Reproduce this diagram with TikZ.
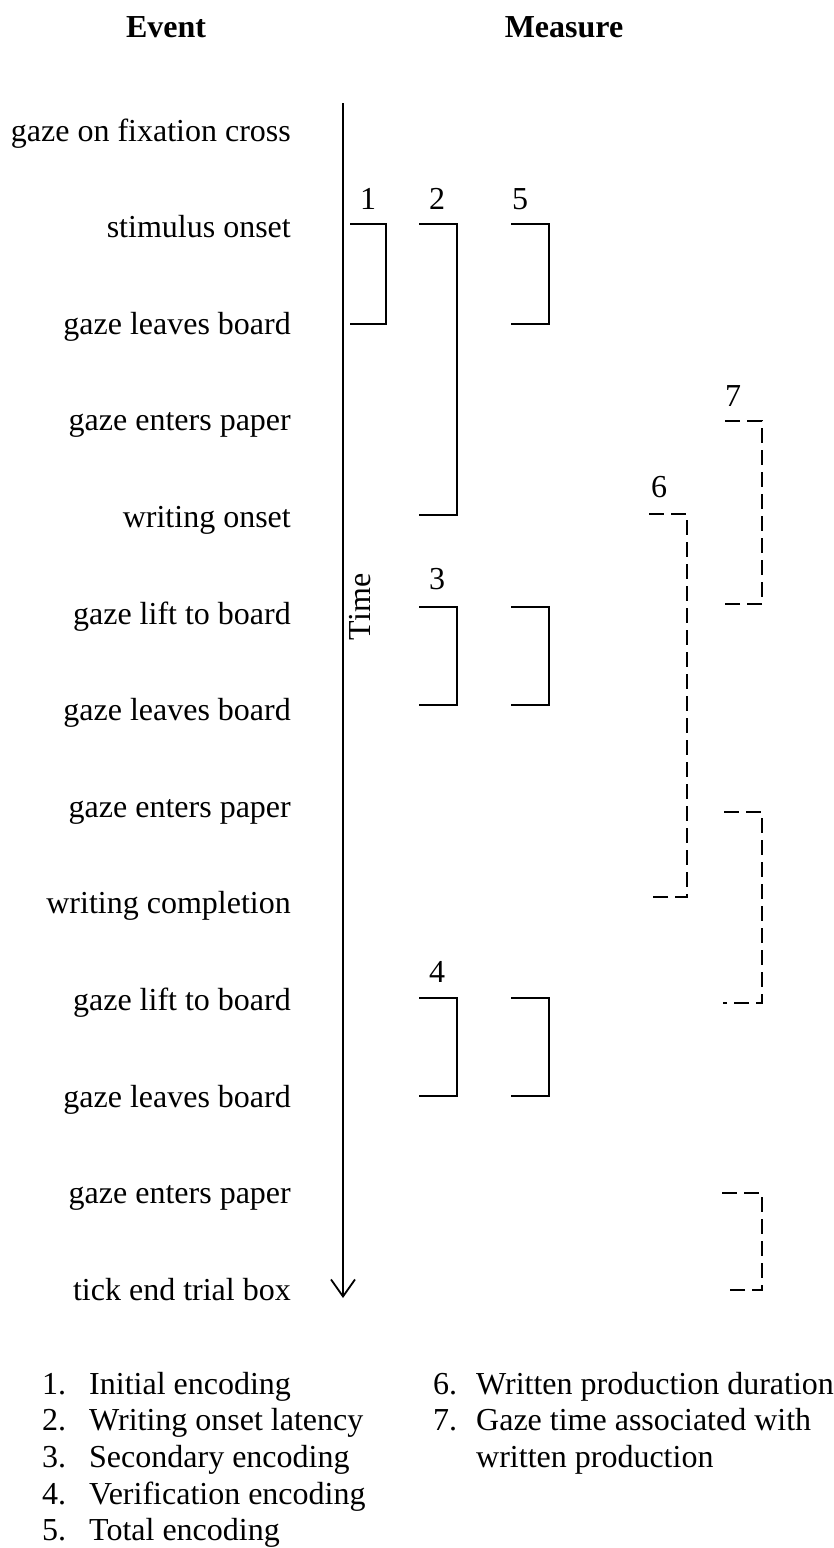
\documentclass[tikz,border=0pt]{standalone}
\usepackage{fontspec}
\setmainfont{Liberation Serif}
\usetikzlibrary{arrows.meta}
\begin{document}
\begin{tikzpicture}[x=1pt,y=-1pt,
  txt/.style={font=\fontsize{32}{37}\selectfont, inner sep=0pt},
  ev/.style={txt, anchor=base east},
  head/.style={txt, font=\fontsize{32}{37}\selectfont\bfseries, anchor=base},
  num/.style={txt, anchor=base},
  lgn/.style={txt, anchor=base west},
  brk/.style={line width=1.8pt},
  dbrk/.style={line width=1.8pt, dash pattern=on 15pt off 7pt},
]
\useasboundingbox (0,0) rectangle (834,1548);

% headings
\node[head] (hev) at (166,37) {Event};
\node[head] (hme) at (564,37) {Measure};

% events
\foreach \t [count=\i from 0] in {gaze on fixation cross, stimulus onset, gaze leaves board, gaze enters paper, writing onset, gaze lift to board, gaze leaves board, gaze enters paper, writing completion, gaze lift to board, gaze leaves board, gaze enters paper, tick end trial box}
  \node[ev] (e\i) at (291,{141+96.6*\i}) {\t};

% time axis
\coordinate (ttop) at (343,103);
\coordinate (tbot) at (343,1298);
\draw[line width=1.8pt, -{Straight Barb[length=17pt,width=24pt,line width=1.8pt]}] (ttop) -- (tbot);
\node[txt, rotate=90] (time) at (360,607) {Time};

% solid brackets
\draw[brk] (350,224) -- (386,224) -- (386,324) -- (350,324);
\node[num] (n1) at (368,209) {1};
\draw[brk] (419,224) -- (457,224) -- (457,515) -- (419,515);
\node[num] (n2) at (437,209) {2};
\draw[brk] (511,224) -- (549,224) -- (549,324) -- (511,324);
\node[num] (n5) at (520,209) {5};

\draw[brk] (419,607) -- (457,607) -- (457,705) -- (419,705);
\node[num] (n3) at (437,589) {3};
\draw[brk] (511,607) -- (549,607) -- (549,705) -- (511,705);

\draw[brk] (419,998) -- (457,998) -- (457,1096) -- (419,1096);
\node[num] (n4) at (437,982) {4};
\draw[brk] (511,998) -- (549,998) -- (549,1096) -- (511,1096);

% dashed brackets
\draw[dbrk] (649,514) -- (687,514) -- (687,897) -- (649,897);
\node[num] (n6) at (659,497) {6};
\draw[dbrk] (725,421) -- (762,421) -- (762,604) -- (725,604);
\node[num] (n7) at (733,406) {7};
\draw[dbrk] (724,812) -- (762,812) -- (762,1003) -- (723,1003);
\draw[dbrk] (722,1193) -- (762,1193) -- (762,1290) -- (727,1290);

% legend
\foreach \n/\t [count=\i from 0] in {1./Initial encoding, 2./Writing onset latency, 3./Secondary encoding, 4./Verification encoding, 5./Total encoding}{
  \node[lgn] (ln\i) at (42,{1394+36.7*\i}) {\n};
  \node[lgn] (lt\i) at (89,{1394+36.7*\i}) {\t};
}
\node[lgn] (ln6) at (433,1394) {6.};
\node[lgn] (lt6) at (476,1394) {Written production duration};
\node[lgn] (ln7) at (433,1430.7) {7.};
\node[lgn] (lt7) at (476,1430.7) {Gaze time associated with};
\node[lgn] (lt7b) at (476,1467.4) {written production};
\end{tikzpicture}
\end{document}
